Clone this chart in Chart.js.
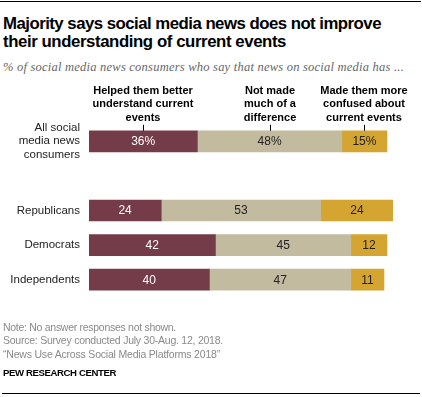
<!DOCTYPE html>
<html>
<head>
<meta charset="utf-8">
<script src="https://cdn.jsdelivr.net/npm/chart.js@4.4.0/dist/chart.umd.min.js"></script>
<style>
  html, body { margin: 0; padding: 0; background: #fff; }
  #wrap { position: relative; width: 422px; height: 397px; overflow: hidden; font-family: "Liberation Sans", Arial, sans-serif; }
  .t { position: absolute; left: 3px; white-space: nowrap; }
  .title { font-weight: bold; font-size: 16.8px; line-height: 18px; color: #000; }
  .sub { font-family: "Liberation Serif", serif; font-style: italic; font-size: 12.5px; line-height: 14px; color: #666; }
  .note { font-size: 10.5px; line-height: 12px; color: #8a8a8a; }
  .pew { font-size: 9.6px; line-height: 12px; font-weight: bold; color: #000; }
  .rule { position: absolute; height: 1px; background: #000; }
  #chartBox { position: absolute; left: 0; top: 0; width: 422px; height: 397px; }
</style>
</head>
<body>
<div id="wrap">
  <div class="rule" style="left:0;top:1px;width:421px;"></div>
  <div class="t title" style="top:15px;" data-w="378">Majority says social media news does not improve</div>
  <div class="t title" style="top:32.5px;" data-w="283">their understanding of current events</div>
  <div class="t sub" style="top:60px;" data-w="401">% of social media news consumers who say that news on social media has ...</div>
  <div id="chartBox"><canvas id="c" width="422" height="397"></canvas></div>
  <div class="t note" style="top:321px;" data-w="173">Note: No answer responses not shown.</div>
  <div class="t note" style="top:334px;" data-w="220">Source: Survey conducted July 30-Aug. 12, 2018.</div>
  <div class="t note" style="top:348px;" data-w="217">“News Use Across Social Media Platforms 2018”</div>
  <div class="t pew" style="top:367px;" data-w="113">PEW RESEARCH CENTER</div>
  <div class="rule" style="left:2px;top:393px;width:418px;"></div>
</div>
<script>
// ---- data ----
const categories = [['All social', 'media news', 'consumers'], '', 'Republicans', 'Democrats', 'Independents'];
const helped   = [36, null, 24, 42, 40];
const notMuch  = [48, null, 53, 45, 47];
const confused = [15, null, 24, 12, 11];
const seriesHeaders = [
  ['Helped them better', 'understand current', 'events'],
  ['Not made', 'much of a', 'difference'],
  ['Made them more', 'confused about', 'current events']
];
const percentRow = 0;

// fit text widths
document.querySelectorAll('[data-w]').forEach(el => {
  const target = parseFloat(el.dataset.w);
  const w = el.getBoundingClientRect().width;
  const n = el.textContent.length;
  el.style.letterSpacing = ((target - w) / n).toFixed(3) + 'px';
});

const FONT = '"Liberation Sans", Arial, sans-serif';
const colors = ['#733c48', '#c2bb9f', '#d4a531'];
const labelColors = ['#ffffff', '#222222', '#222222'];

const segLabels = {
  id: 'segLabels',
  afterDatasetsDraw(chart) {
    const ctx = chart.ctx;
    ctx.save();
    ctx.font = '12px ' + FONT;
    ctx.textAlign = 'center';
    ctx.textBaseline = 'middle';
    chart.data.datasets.forEach((ds, di) => {
      const meta = chart.getDatasetMeta(di);
      meta.data.forEach((el, i) => {
        const v = ds.data[i];
        if (v == null) return;
        const cx = (el.x + el.base) / 2;
        ctx.fillStyle = labelColors[di];
        ctx.fillText(v + (i === percentRow ? '%' : ''), cx, el.y + 0.5);
      });
    });
    // headers above first row
    ctx.font = 'bold 11px ' + FONT;
    ctx.fillStyle = '#000';
    ctx.strokeStyle = '#000';
    ctx.lineWidth = 1;
    chart.data.datasets.forEach((ds, di) => {
      const el = chart.getDatasetMeta(di).data[percentRow];
      const cx = Math.round((el.x + el.base) / 2);
      const lines = seriesHeaders[di];
      const top = el.y - el.height / 2;
      lines.forEach((ln, k) => {
        ctx.fillText(ln, cx, top - 40 + k * 13.5);
      });
      ctx.beginPath();
      ctx.moveTo(cx + 0.5, top - 6);
      ctx.lineTo(cx + 0.5, top);
      ctx.stroke();
    });
    ctx.restore();
  }
};

new Chart(document.getElementById('c'), {
  type: 'bar',
  data: {
    labels: categories,
    datasets: [
      { label: 'Helped', data: helped, backgroundColor: colors[0] },
      { label: 'Not much', data: notMuch, backgroundColor: colors[1] },
      { label: 'Confused', data: confused, backgroundColor: colors[2] }
    ]
  },
  options: {
    indexAxis: 'y',
    responsive: false,
    animation: false,
    events: [],
    datasets: { bar: { barThickness: 21, borderWidth: 0 } },
    layout: { padding: { top: 124, bottom: 100, left: 0, right: 29 } },
    plugins: { legend: { display: false }, tooltip: { enabled: false } },
    scales: {
      x: { stacked: true, min: 0, max: 101, display: false },
      y: {
        stacked: true,
        grid: { display: false, drawTicks: false },
        border: { display: false },
        ticks: { autoSkip: false, color: '#222', padding: 9, font: { family: FONT, size: 11.5, lineHeight: 1.15 } },
        afterFit(scale) { scale.width = 89; }
      }
    }
  },
  plugins: [segLabels]
});
</script>
</body>
</html>
